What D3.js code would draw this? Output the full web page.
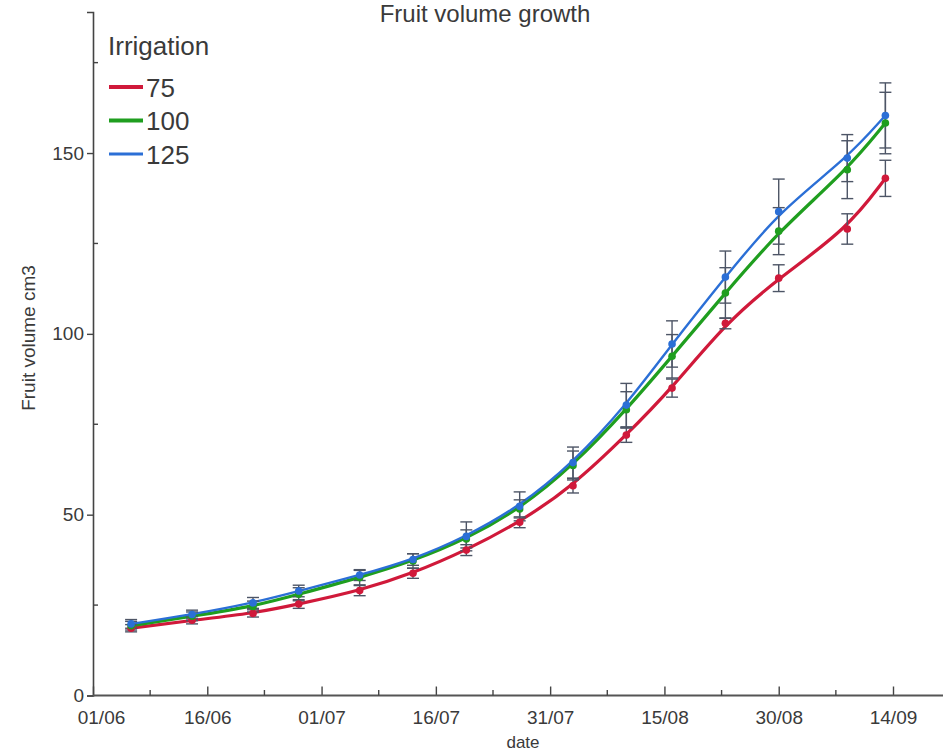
<!DOCTYPE html>
<html>
<head>
<meta charset="utf-8">
<script src="https://cdn.jsdelivr.net/npm/d3@7"></script>
<style>
  body { margin: 0; background: #fff; }
  text { font-family: "Liberation Sans", Arial, sans-serif; fill: #3a3a3a; }
</style>
</head>
<body>
<script>
// data
var fechas = ["06/06", "14/06", "22/06", "28/06", "06/07", "13/07", "20/07", "27/07",
              "03/08", "10/08", "16/08", "23/08", "30/08", "08/09", "13/09"]

var riego75  = [18.6, 20.8, 22.7, 25.3, 29.0, 33.8, 40.2, 47.9, 58.0, 72.0, 85.0, 102.9, 115.4, 129.0, 143.0]
var riego100 = [19.3, 21.9, 24.6, 28.0, 32.6, 37.2, 43.3, 51.6, 63.6, 79.0, 93.8, 111.3, 128.4, 145.4, 158.3]
var riego125 = [19.8, 22.4, 25.6, 28.9, 33.3, 37.6, 44.0, 52.3, 64.4, 80.3, 97.2, 115.7, 133.8, 148.6, 160.4]

var error75  = [1.0, 1.0, 1.0, 1.2, 1.4, 1.4, 1.5, 1.5, 2.0, 2.0, 2.5, 1.5, 3.7, 4.2, 5.0]
var error100 = [1.2, 1.2, 1.5, 1.8, 2.0, 2.0, 2.5, 2.5, 4.0, 5.0, 6.0, 7.0, 6.5, 8.0, 8.5]
var error125 = [1.2, 1.2, 1.5, 1.6, 1.5, 1.6, 4.0, 4.0, 4.3, 6.0, 6.4, 7.2, 9.0, 6.5, 9.0]

var etiquetasX = ["01/06", "16/06", "01/07", "16/07", "31/07", "15/08", "30/08", "14/09"]
var ticksY = [0, 50, 100, 150]
var ticksYmenores = [25, 75, 125, 175]

var series = [
    {nombre: "75",  valores: riego75,  errores: error75,  color: "#d0193a", ancho: 3.2},
    {nombre: "100", valores: riego100, errores: error100, color: "#1f9e1f", ancho: 3.2},
    {nombre: "125", valores: riego125, errores: error125, color: "#2b6fd6", ancho: 2.4}
]

var parseFecha = d => d3.timeParse("%d/%m/%Y")(d + "/2015")

var svg = d3.select("body")
    .append("svg")
    .attr("width", 943)
    .attr("height", 754)

var x = d3.scaleTime()
    .domain([parseFecha("01/06"), parseFecha("14/09")])
    .range([93, 893])

var y = d3.scaleLinear()
    .domain([0, 189])
    .range([695.5, 12])

// titulo
svg.append("text")
    .attr("x", 485)
    .attr("y", 22)
    .attr("text-anchor", "middle")
    .style("font-size", "24px")
    .text("Fruit volume growth")

// eje Y
var ejeY = svg.append("g")
    .attr("transform", "translate(93,0)")
    .call(d3.axisLeft(y).tickValues(ticksY).tickSize(6).tickPadding(3).tickFormat(d3.format("d")))
ejeY.select(".domain").attr("stroke", "#444").attr("stroke-width", 1.6)
ejeY.selectAll(".tick line").attr("stroke", "#444").attr("stroke-width", 1.4)
ejeY.selectAll(".tick text").style("font-size", "19px").attr("fill", "#3a3a3a")

svg.append("g")
    .selectAll("line")
    .data(ticksYmenores)
    .enter()
    .append("line")
    .attr("x1", 93).attr("x2", 98)
    .attr("y1", d => y(d)).attr("y2", d => y(d))
    .attr("stroke", "#444").attr("stroke-width", 1.4)

// eje X
var fechasTicks = etiquetasX.map(parseFecha)
var ejeX = svg.append("g")
    .attr("transform", "translate(0,695.5)")
    .call(d3.axisBottom(x).tickValues(fechasTicks).tickSize(-9).tickPadding(15)
          .tickFormat(d3.timeFormat("%d/%m")))
ejeX.select(".domain").remove()
ejeX.selectAll(".tick line").attr("stroke", "#444").attr("stroke-width", 1.4)
ejeX.selectAll(".tick text").style("font-size", "19px").attr("fill", "#3a3a3a")
ejeX.selectAll(".tick text").filter((d, i) => i == 0).attr("dx", 8)

svg.append("line")
    .attr("x1", 93).attr("x2", 943)
    .attr("y1", 695.5).attr("y2", 695.5)
    .attr("stroke", "#555").attr("stroke-width", 2)

var menoresX = d3.pairs(fechasTicks).map(p => new Date((+p[0] + +p[1]) / 2))
svg.append("g")
    .selectAll("line")
    .data(menoresX)
    .enter()
    .append("line")
    .attr("x1", d => x(d)).attr("x2", d => x(d))
    .attr("y1", 695.5).attr("y2", 690)
    .attr("stroke", "#444").attr("stroke-width", 1.4)

// titulos de ejes
svg.append("text")
    .attr("x", 523)
    .attr("y", 748)
    .attr("text-anchor", "middle")
    .style("font-size", "17px")
    .text("date")

svg.append("text")
    .attr("transform", "translate(35,338) rotate(-90)")
    .attr("text-anchor", "middle")
    .style("font-size", "19px")
    .text("Fruit volume cm3")

// lineas suavizadas
var linea = d3.line()
    .x((d, i) => x(parseFecha(fechas[i])))
    .y(d => y(d))
    .curve(d3.curveBasis)

svg.append("g")
    .selectAll("path")
    .data(series)
    .enter()
    .append("path")
    .attr("d", s => linea(s.valores))
    .attr("fill", "none")
    .attr("stroke", s => s.color)
    .attr("stroke-width", s => s.ancho)

// barras de error
series.forEach(function(s) {
    var g = svg.append("g")
    s.valores.forEach(function(v, i) {
        var cx = x(parseFecha(fechas[i]))
        var arriba = y(v + s.errores[i]), abajo = y(v - s.errores[i])
        g.append("line").attr("x1", cx).attr("x2", cx).attr("y1", arriba).attr("y2", abajo)
        g.append("line").attr("x1", cx - 6).attr("x2", cx + 6).attr("y1", arriba).attr("y2", arriba)
        g.append("line").attr("x1", cx - 6).attr("x2", cx + 6).attr("y1", abajo).attr("y2", abajo)
    })
    g.selectAll("line").attr("stroke", "#4d5566").attr("stroke-width", 1.4)
})

// puntos
series.forEach(function(s) {
    svg.append("g")
        .selectAll("circle")
        .data(s.valores)
        .enter()
        .append("circle")
        .attr("cx", (d, i) => x(parseFecha(fechas[i])))
        .attr("cy", d => y(d))
        .attr("r", 3.8)
        .attr("fill", s.color)
})

// leyenda
var leyenda = svg.append("g")
leyenda.append("text")
    .attr("x", 108)
    .attr("y", 55)
    .style("font-size", "26px")
    .text("Irrigation")

var itemY = d3.scalePoint().domain(series.map(s => s.nombre)).range([87, 154])
series.forEach(function(s) {
    leyenda.append("line")
        .attr("x1", 109).attr("x2", 143)
        .attr("y1", itemY(s.nombre)).attr("y2", itemY(s.nombre))
        .attr("stroke", s.color)
        .attr("stroke-width", s.nombre == "125" ? 3 : 4)
    leyenda.append("text")
        .attr("x", 146)
        .attr("y", itemY(s.nombre) + 9.5)
        .style("font-size", "26px")
        .text(s.nombre)
})
</script>
</body>
</html>
